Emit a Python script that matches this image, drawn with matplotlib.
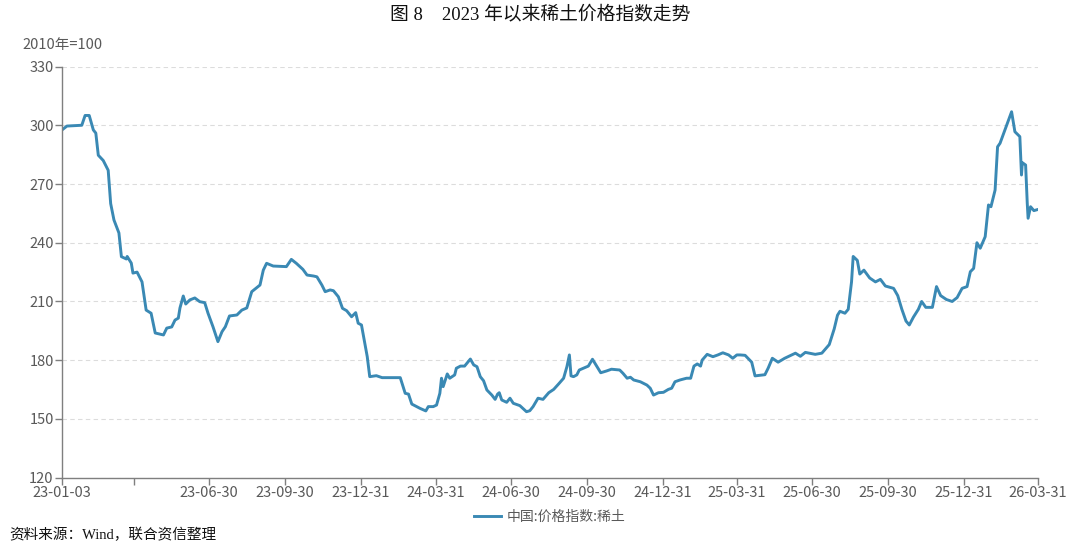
import pandas as pd
import matplotlib
matplotlib.use("Agg")
import matplotlib.pyplot as plt

plt.rcParams['font.family'] = ['Noto Sans CJK SC', 'DejaVu Sans']

# 中国:价格指数:稀土 (2010年=100)
dates = [
    "2023-01-03", "2023-01-09", "2023-01-27", "2023-01-31", "2023-02-05", "2023-02-10",
    "2023-02-13", "2023-02-16", "2023-02-22", "2023-02-28", "2023-03-03", "2023-03-07",
    "2023-03-13", "2023-03-16", "2023-03-22", "2023-03-23", "2023-03-28", "2023-03-30",
    "2023-04-04", "2023-04-10", "2023-04-15", "2023-04-21", "2023-04-26", "2023-05-06",
    "2023-05-10", "2023-05-16", "2023-05-20", "2023-05-24", "2023-05-26", "2023-05-30",
    "2023-06-02", "2023-06-07", "2023-06-13", "2023-06-19", "2023-06-25", "2023-06-29",
    "2023-07-05", "2023-07-11", "2023-07-16", "2023-07-20", "2023-07-25", "2023-08-03",
    "2023-08-09", "2023-08-15", "2023-08-21", "2023-08-27", "2023-08-31", "2023-09-04",
    "2023-09-08", "2023-09-16", "2023-10-02", "2023-10-08", "2023-10-14", "2023-10-22",
    "2023-10-27", "2023-11-04", "2023-11-08", "2023-11-14", "2023-11-18", "2023-11-24",
    "2023-11-28", "2023-12-04", "2023-12-09", "2023-12-14", "2023-12-20", "2023-12-25",
    "2023-12-28", "2024-01-01", "2024-01-05", "2024-01-08", "2024-01-11", "2024-01-19",
    "2024-01-26", "2024-02-17", "2024-02-23", "2024-02-27", "2024-03-02", "2024-03-12",
    "2024-03-19", "2024-03-22", "2024-03-28", "2024-04-01", "2024-04-05", "2024-04-07",
    "2024-04-09", "2024-04-14", "2024-04-17", "2024-04-23", "2024-04-25", "2024-04-30",
    "2024-05-05", "2024-05-12", "2024-05-16", "2024-05-20", "2024-05-24", "2024-05-28",
    "2024-06-01", "2024-06-07", "2024-06-11", "2024-06-14", "2024-06-16", "2024-06-19",
    "2024-06-25", "2024-06-29", "2024-07-03", "2024-07-11", "2024-07-19", "2024-07-23",
    "2024-07-27", "2024-08-02", "2024-08-08", "2024-08-15", "2024-08-21", "2024-08-27",
    "2024-09-02", "2024-09-06", "2024-09-09", "2024-09-11", "2024-09-14", "2024-09-18",
    "2024-09-21", "2024-09-26", "2024-10-02", "2024-10-07", "2024-10-12", "2024-10-17",
    "2024-10-24", "2024-10-30", "2024-11-09", "2024-11-13", "2024-11-18", "2024-11-22",
    "2024-11-26", "2024-12-04", "2024-12-12", "2024-12-16", "2024-12-20", "2024-12-26",
    "2025-01-01", "2025-01-07", "2025-01-11", "2025-01-15", "2025-01-21", "2025-01-29",
    "2025-02-03", "2025-02-07", "2025-02-11", "2025-02-15", "2025-02-17", "2025-02-23",
    "2025-03-02", "2025-03-08", "2025-03-14", "2025-03-21", "2025-03-26", "2025-03-31",
    "2025-04-04", "2025-04-10", "2025-04-18", "2025-04-22", "2025-05-04", "2025-05-08",
    "2025-05-13", "2025-05-20", "2025-05-28", "2025-06-10", "2025-06-16", "2025-06-22",
    "2025-07-04", "2025-07-12", "2025-07-21", "2025-07-27", "2025-07-31", "2025-08-03",
    "2025-08-09", "2025-08-13", "2025-08-17", "2025-08-19", "2025-08-24", "2025-08-27",
    "2025-09-01", "2025-09-08", "2025-09-15", "2025-09-21", "2025-09-27", "2025-10-07",
    "2025-10-12", "2025-10-17", "2025-10-22", "2025-10-26", "2025-10-31", "2025-11-06",
    "2025-11-10", "2025-11-15", "2025-11-23", "2025-11-28", "2025-12-03", "2025-12-10",
    "2025-12-17", "2025-12-23", "2025-12-29", "2026-01-04", "2026-01-08", "2026-01-12",
    "2026-01-16", "2026-01-20", "2026-01-26", "2026-01-30", "2026-02-02", "2026-02-07",
    "2026-02-10", "2026-02-13", "2026-02-27", "2026-03-03", "2026-03-09", "2026-03-11",
    "2026-03-12", "2026-03-16", "2026-03-18", "2026-03-19", "2026-03-22", "2026-03-26",
    "2026-03-31",
]
index_values = [
    297.6, 299.6, 300.0, 305.0, 305.0, 297.6,
    296.0, 284.7, 282.0, 277.0, 260.0, 251.6,
    245.0, 232.9, 231.7, 233.0, 229.6, 224.5,
    225.0, 220.0, 205.6, 204.0, 193.9, 192.9,
    196.4, 197.0, 200.5, 201.5, 206.7, 212.8,
    208.7, 210.8, 211.8, 209.9, 209.4, 204.0,
    197.1, 189.5, 194.6, 197.1, 202.6, 203.1,
    205.6, 206.7, 215.0, 217.0, 218.4, 226.0,
    229.5, 228.1, 227.8, 231.5, 229.5, 226.4,
    223.5, 223.0, 222.6, 218.4, 215.0, 215.9,
    215.5, 212.4, 206.5, 205.3, 202.2, 204.3,
    198.9, 198.0, 188.6, 181.8, 171.6, 172.1,
    171.1, 171.1, 163.1, 162.7, 157.6, 155.4,
    154.1, 156.3, 156.3, 157.1, 163.1, 170.8,
    166.5, 173.0, 170.8, 172.5, 175.9, 177.0,
    177.0, 180.6, 177.6, 176.7, 171.6, 169.5,
    164.8, 162.2, 160.0, 162.7, 163.4, 159.7,
    158.5, 160.6, 158.0, 156.8, 153.7, 154.2,
    156.3, 160.6, 160.0, 163.4, 165.1, 167.9,
    170.8, 176.7, 182.7, 172.0, 171.6, 172.5,
    175.0, 175.9, 177.0, 180.5, 177.0, 173.6,
    174.5, 175.4, 175.0, 173.3, 170.8, 171.3,
    169.9, 169.0, 167.3, 165.7, 162.2, 163.4,
    163.6, 165.1, 165.7, 169.0, 169.9, 170.8,
    170.8, 177.0, 178.1, 177.0, 180.1, 183.0,
    181.8, 182.7, 183.8, 182.7, 181.0, 182.7,
    182.7, 182.5, 179.0, 172.0, 172.6, 176.0,
    181.0, 179.0, 181.0, 183.6, 182.0, 184.0,
    183.0, 183.6, 188.0, 196.0, 203.0, 205.0,
    204.0, 206.0, 220.0, 233.0, 231.0, 224.0,
    226.0, 222.0, 220.0, 221.3, 217.9, 216.7,
    213.0, 206.0, 200.0, 198.0, 202.0, 206.0,
    210.0, 207.0, 207.0, 217.6, 213.0, 211.0,
    210.0, 212.0, 216.7, 217.6, 225.2, 226.9,
    240.0, 237.2, 243.1, 259.3, 258.4, 266.9,
    289.0, 290.8, 306.9, 296.7, 294.2, 274.6,
    280.9, 279.7, 260.1, 252.5, 258.4, 256.4,
    257.0,
]

tick_dates = ["2023-01-03", "2023-03-31", "2023-06-30", "2023-09-30", "2023-12-31",
              "2024-03-31", "2024-06-30", "2024-09-30", "2024-12-31", "2025-03-31",
              "2025-06-30", "2025-09-30", "2025-12-31", "2026-03-31"]
tick_labels = ["23-01-03", "", "23-06-30", "23-09-30", "23-12-31",
               "24-03-31", "24-06-30", "24-09-30", "24-12-31", "25-03-31",
               "25-06-30", "25-09-30", "25-12-31", "26-03-31"]
y_ticks = [120, 150, 180, 210, 240, 270, 300, 330]

x = pd.to_datetime(dates)
xt = pd.to_datetime(tick_dates)

fig = plt.figure(figsize=(10.8, 5.48), dpi=100)
ax = fig.add_axes([0.0574, 0.1283, 0.9037, 0.7503])

ax.plot(x, index_values, color="#3a89b4", linewidth=2.1, label="中国:价格指数:稀土",
        solid_joinstyle="round")

ax.set_xlim(xt[0], xt[-1])
ax.set_ylim(120, 330)
ax.set_yticks(y_ticks)
ax.set_xticks(xt)
ax.set_xticklabels(tick_labels)

ax.grid(axis="y", linestyle=(0, (4, 3)), color="#dcdcdc", linewidth=0.8)
ax.set_axisbelow(True)
for s in ["top", "right"]:
    ax.spines[s].set_visible(False)
for s in ["left", "bottom"]:
    ax.spines[s].set_color("#7f7f7f")
    ax.spines[s].set_linewidth(1.0)
ax.tick_params(axis="both", colors="#7f7f7f", labelcolor="#595959", labelsize=10.5,
               length=5, width=1.0, pad=1)

fig.text(0.0204, 0.917, "2010年=100", fontsize=10.5, color="#595959", va="center")
fig.text(0.5, 0.974, "图 8    2023 年以来稀土价格指数走势", fontsize=13.5, color="#111111",
         ha="center", va="center", family=["Liberation Serif", "Noto Sans CJK SC"])
fig.text(0.009, 0.024, "资料来源：Wind，联合资信整理", fontsize=10.5, color="#111111",
         va="center", family=["Liberation Serif", "Noto Sans CJK SC"])

fig.legend(loc="center", bbox_to_anchor=(0.509, 0.057), frameon=False, fontsize=10,
           handlelength=2.0, labelcolor="#595959", handletextpad=0.4)

fig.savefig("out.png", dpi=100)
